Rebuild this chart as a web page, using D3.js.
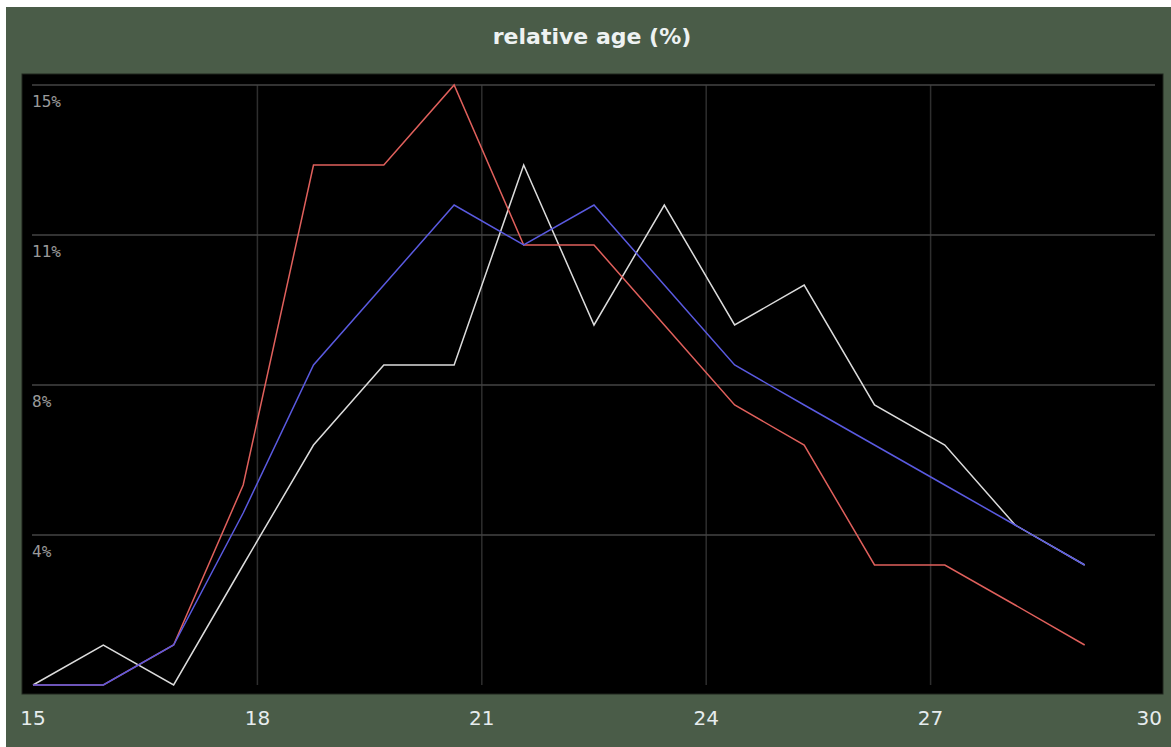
<!DOCTYPE html>
<html>
<head>
<meta charset="utf-8">
<script src="https://cdn.jsdelivr.net/npm/d3@7"></script>
<style>
  html, body { margin: 0; padding: 0; background: #fff; }
  svg { display: block; }
</style>
</head>
<body>
<div id="chart"></div>
<script>
// age buckets (x) and the three series (% per bucket)
const ages = [15, 15.94, 16.88, 17.81, 18.75, 19.69, 20.63, 21.56, 22.5, 23.44, 24.38, 25.31, 26.25, 27.19, 28.13, 29.06];
const whiteSeries = [0, 1, 0, 3, 6, 8, 8, 13, 9, 12, 9, 10, 7, 6, 4, 3];
const blueSeries = [0, 0, 1, 4.3, 8, 10, 12, 11, 12, 10, 8, 7, 6, 5, 4, 3];
const redSeries = [0, 0, 1, 5, 13, 13, 15, 11, 11, 9, 7, 6, 3, 3, 2, 1];

const xTicks = [15, 18, 21, 24, 27, 30];
const xGrid = [18, 21, 24, 27];
const yTicks = [3.75, 7.5, 11.25, 15];
const yTickLabels = ["4%", "8%", "11%", "15%"];

const W = 1171, H = 747;
const svg = d3.select("#chart").append("svg")
    .attr("width", W)
    .attr("height", H);

// panel
svg.append("rect")
    .attr("x", 6).attr("y", 7)
    .attr("width", W - 6).attr("height", H - 7)
    .attr("fill", "#4a5c48");

// title
svg.append("text")
    .attr("x", 592).attr("y", 44)
    .attr("text-anchor", "middle")
    .attr("font-family", "DejaVu Sans, Verdana, sans-serif")
    .attr("font-weight", "bold")
    .attr("font-size", 22)
    .attr("fill", "#eef2f2")
    .text("relative age (%)");

// plot area
svg.append("rect")
    .attr("x", 22).attr("y", 74)
    .attr("width", 1141).attr("height", 620)
    .attr("fill", "#000")
    .attr("stroke", "#1e241d")
    .attr("stroke-width", 1);

const x = d3.scaleLinear().domain([15, 30]).range([33, 1155]);
const y = d3.scaleLinear().domain([0, 15]).range([685, 85]);

// grid
svg.append("g").selectAll("line")
    .data(xGrid)
    .enter().append("line")
    .attr("x1", d => x(d)).attr("x2", d => x(d))
    .attr("y1", y(15)).attr("y2", y(0))
    .attr("stroke", "#2e2e2e")
    .attr("stroke-width", 1.5);

svg.append("g").selectAll("line")
    .data(yTicks)
    .enter().append("line")
    .attr("x1", x(15) - 1).attr("x2", x(30))
    .attr("y1", d => y(d)).attr("y2", d => y(d))
    .attr("stroke", "#444")
    .attr("stroke-width", 1.5);

// y labels inside plot, under each grid line
svg.append("g").selectAll("text")
    .data(yTicks)
    .enter().append("text")
    .attr("x", 32)
    .attr("y", d => y(d) + 22)
    .attr("font-family", "DejaVu Sans Mono, monospace")
    .attr("font-size", 16)
    .attr("fill", "#9a9a9a")
    .text((d, i) => yTickLabels[i]);

// x labels
svg.append("g").selectAll("text")
    .data(xTicks)
    .enter().append("text")
    .attr("x", (d, i) => i === xTicks.length - 1 ? 1162 : x(d))
    .attr("y", 725)
    .attr("text-anchor", (d, i) => i === xTicks.length - 1 ? "end" : "middle")
    .attr("font-family", "DejaVu Sans, Verdana, sans-serif")
    .attr("font-size", 20)
    .attr("fill", "#e6ecee")
    .text(d => d);

// lines
const line = d3.line()
    .x((d, i) => x(ages[i]))
    .y(d => y(d));

const series = [
    { values: whiteSeries, color: "#dcdcdc" },
    { values: redSeries, color: "#e0605c" },
    { values: blueSeries, color: "#5a5ae0" }
];

svg.append("g").selectAll("path")
    .data(series)
    .enter().append("path")
    .attr("d", d => line(d.values))
    .attr("fill", "none")
    .attr("stroke", d => d.color)
    .attr("stroke-width", 1.5);
</script>
</body>
</html>
